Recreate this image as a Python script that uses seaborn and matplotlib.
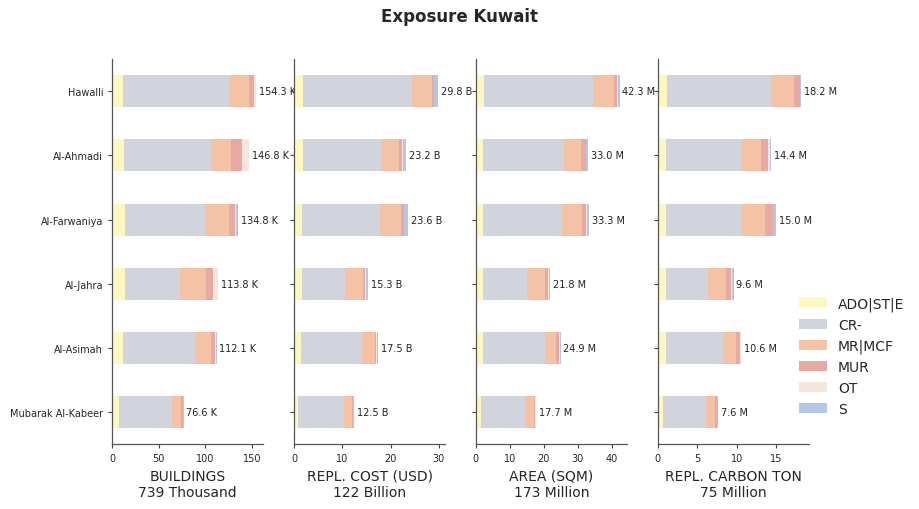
import pandas as pd
import matplotlib
matplotlib.use('Agg')
import matplotlib.pyplot as plt
import seaborn as sns
from matplotlib.patches import Patch

# Data
districts = ['Hawalli', 'Al-Ahmadi', 'Al-Farwaniya', 'Al-Jahra', 'Al-Asimah', 'Mubarak Al-Kabeer']
classes = ['ADO|ST|E', 'CR-', 'MR|MCF', 'MUR', 'OT', 'S']

buildings = {
    'ADO|ST|E': [12.0, 12.2, 13.2, 13.2, 11.1, 6.8],
    'CR-':      [114.0, 93.4, 86.3, 59.1, 77.3, 56.9],
    'MR|MCF':   [20.4, 21.5, 25.5, 27.9, 17.2, 9.7],
    'MUR':      [5.4, 11.8, 6.4, 7.6, 4.3, 2.5],
    'OT':       [2.2, 7.5, 1.8, 5.3, 1.9, 0.3],
    'S':        [0.34, 0.44, 1.64, 0.74, 0.34, 0.44],
}
repl_cost = {
    'ADO|ST|E': [1.9, 1.9, 1.7, 1.7, 1.5, 0.9],
    'CR-':      [22.5, 16.3, 16.1, 8.9, 12.6, 9.5],
    'MR|MCF':   [4.1, 3.5, 4.3, 3.7, 2.6, 1.7],
    'MUR':      [0.5, 0.7, 0.6, 0.4, 0.35, 0.15],
    'OT':       [0.1, 0.2, 0.1, 0.2, 0.05, 0.05],
    'S':        [0.7, 0.6, 0.8, 0.4, 0.4, 0.2],
}
area = {
    'ADO|ST|E': [2.5, 2.2, 2.2, 2.2, 2.0, 1.4],
    'CR-':      [32.1, 23.6, 23.0, 12.8, 18.3, 13.2],
    'MR|MCF':   [5.9, 5.0, 5.9, 5.2, 3.4, 2.4],
    'MUR':      [1.1, 1.5, 1.4, 0.9, 0.8, 0.5],
    'OT':       [0.1, 0.2, 0.1, 0.3, 0.1, 0.1],
    'S':        [0.6, 0.5, 0.7, 0.4, 0.3, 0.1],
}
carbon = {
    'ADO|ST|E': [1.2, 1.1, 1.1, 1.1, 1.0, 0.6],
    'CR-':      [13.2, 9.6, 9.6, 5.3, 7.3, 5.45],
    'MR|MCF':   [2.8, 2.4, 2.9, 2.3, 1.65, 1.15],
    'MUR':      [0.75, 0.9, 1.0, 0.6, 0.5, 0.25],
    'OT':       [0.05, 0.2, 0.05, 0.1, 0.05, 0.05],
    'S':        [0.2, 0.2, 0.35, 0.2, 0.1, 0.1],
}

panels = [
    (buildings, 'BUILDINGS', 'Thousand', 'K'),
    (repl_cost, 'REPL. COST (USD)', 'Billion', 'B'),
    (area, 'AREA (SQM)', 'Million', 'M'),
    (carbon, 'REPL. CARBON TON', 'Million', 'M'),
]

colors = ['#fff7c0', '#d1d4dc', '#f4c3a6', '#e8a9a3', '#f3e7dc', '#b4c7e7']

sns.set_theme(style='ticks')
plt.rcParams['font.family'] = ['DejaVu Sans']

fig, axes = plt.subplots(1, 4, figsize=(9.2, 5.1), dpi=100, sharey=True)
fig.subplots_adjust(left=0.122, right=0.879, top=0.882, bottom=0.127, wspace=0.205)

for ax, (values, label, unit, suffix) in zip(axes, panels):
    df = pd.DataFrame(values, index=districts)[classes]
    cum = df.cumsum(axis=1)
    totals = cum[classes[-1]]
    # draw cumulative sums from the largest down so they stack visually
    for cls, color in zip(reversed(classes), reversed(colors)):
        sns.barplot(x=cum[cls].values, y=districts, orient='h', color=color,
                    width=0.5, saturation=1, linewidth=0, ax=ax)
    ax.bar_label(ax.containers[0], labels=[f'{t:.1f} {suffix}' for t in totals],
                 padding=2, fontsize=7, color='#222222')
    ax.set_xlim(0, totals.max() * 1.05)
    ax.set_xlabel(f'{label}\n{totals.sum():.0f} {unit}', fontsize=10)
    ax.set_ylabel('')
    ax.tick_params(axis='both', labelsize=7, color='#444444', length=3, width=0.8)
    for s in ['left', 'bottom']:
        ax.spines[s].set_color('#555555')
        ax.spines[s].set_linewidth(0.9)
    sns.despine(ax=ax)

handles = [Patch(facecolor=c, edgecolor='none', label=l) for c, l in zip(colors, classes)]
fig.legend(handles=handles, loc='center left', bbox_to_anchor=(0.855, 0.30),
           frameon=False, fontsize=10)

fig.suptitle('Exposure Kuwait', fontsize=12, fontweight='bold', y=0.985)

plt.savefig('out.png', dpi=100)
